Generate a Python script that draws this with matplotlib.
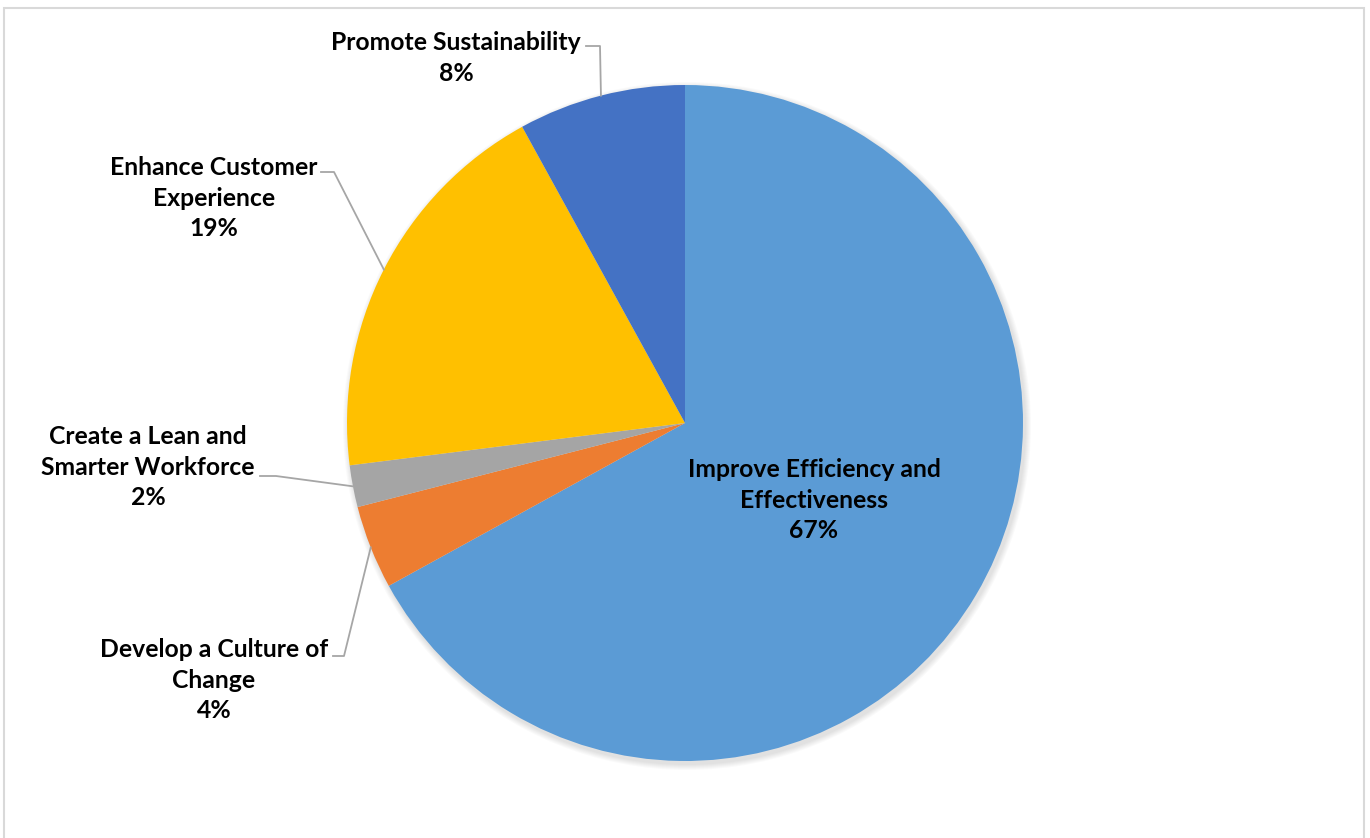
import matplotlib
matplotlib.use("Agg")
import matplotlib.pyplot as plt
import numpy as np
from matplotlib.patches import Rectangle, Circle

# data
categories = ["Improve Efficiency and\nEffectiveness",
              "Develop a Culture of\nChange",
              "Create a Lean and\nSmarter Workforce",
              "Enhance Customer\nExperience",
              "Promote Sustainability"]
values = [67, 4, 2, 19, 8]
colors = ["#5B9BD5", "#ED7D31", "#A5A5A5", "#FFC000", "#4472C4"]

W, H = 1370, 838
fig = plt.figure(figsize=(W / 100, H / 100), dpi=100)
ax = fig.add_axes([0, 0, 1, 1])
ax.set_xlim(0, W)
ax.set_ylim(0, H)
ax.set_aspect("equal")
ax.axis("off")

cx, cy, r = 685, H - 423, 338

# soft shadow under the pie
for k in range(6):
    ax.add_patch(Circle((cx + 2, cy - 3), r + 1 + k, color="black",
                        alpha=0.018, lw=0, zorder=0))

wedges, _ = ax.pie(values, colors=colors, startangle=90, counterclock=False,
                   radius=r, center=(cx, cy), frame=True,
                   wedgeprops=dict(linewidth=0))
ax.set_xlim(0, W)
ax.set_ylim(0, H)
ax.axis("off")

font = dict(family="Lato", weight="bold", fontsize=17.8, color="black",
            ha="center", va="center", linespacing=1.38)

# label positions (pixel coords, text block centre) and leader elbows
label_pos = [(814, 500), (214, 680), (148, 467), (214, 198), (456, 58)]
elbows = [None,
          [(333, 656), (344, 656)],
          [(260, 476), (276, 476)],
          [(321, 172), (334, 172)],
          [(586, 46), (600, 46)]]

for w, name, v, pos, elb in zip(wedges, categories, values, label_pos, elbows):
    ax.text(pos[0], H - pos[1], f"{name}\n{v}%", **font)
    if elb is None:
        continue
    mid = np.deg2rad((w.theta1 + w.theta2) / 2)
    ex = cx + r * np.cos(mid)
    ey = cy + r * np.sin(mid)
    xs = [elb[0][0], elb[1][0], ex]
    ys = [H - elb[0][1], H - elb[1][1], ey]
    ax.plot(xs, ys, color="#A6A6A6", lw=1.3, zorder=3)

# chart border
ax.add_patch(Rectangle((4, -10), 1360, H - 4 + 10 - 4, fill=False,
                       edgecolor="#D9D9D9", lw=1.5, zorder=5))

fig.savefig("out.png", dpi=100)
